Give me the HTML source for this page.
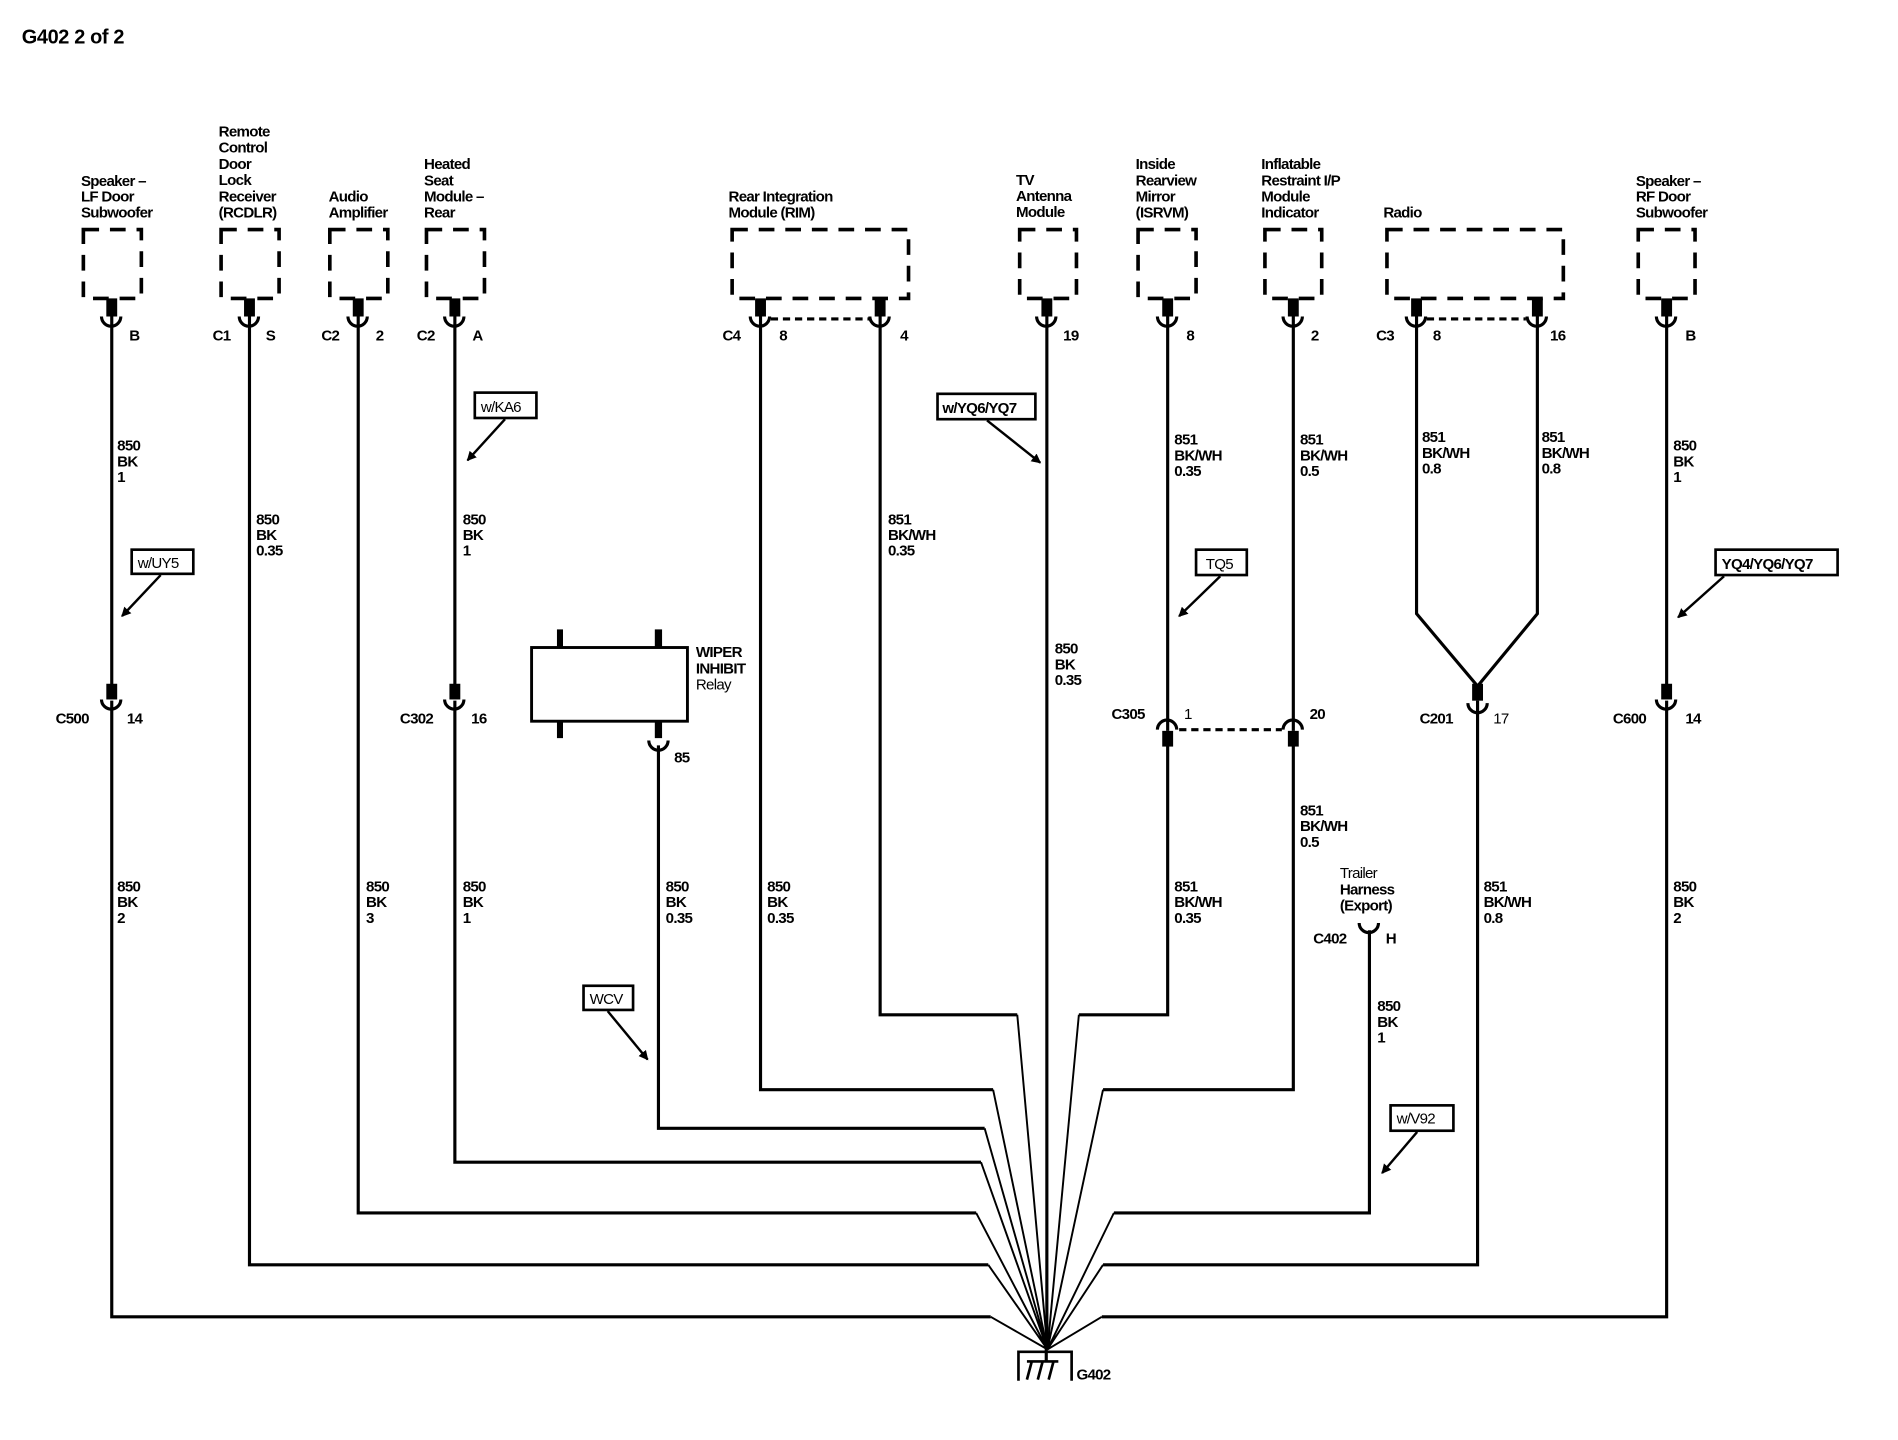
<!DOCTYPE html>
<html><head><meta charset="utf-8"><style>
html,body{margin:0;padding:0;background:#fff;}
svg{display:block;}
text{font-family:"Liberation Sans",Arial,sans-serif;font-size:12.5px;font-weight:bold;letter-spacing:-0.6px;fill:#000;}
.w{fill:none;stroke:#000;stroke-width:2.6;}
.t{fill:none;stroke:#000;stroke-width:1.6;}
.d{fill:none;stroke:#000;stroke-width:3;stroke-dasharray:13 9;}
.dot{fill:none;stroke:#000;stroke-width:2.6;stroke-dasharray:6 4;}
.c{fill:none;stroke:#000;stroke-width:2.6;}
</style></head><body>
<svg width="1898" height="1440" viewBox="0 0 1571 1192" preserveAspectRatio="none" xmlns="http://www.w3.org/2000/svg">
<defs>
<marker id="ah" markerWidth="8" markerHeight="8" refX="7" refY="4" orient="auto" markerUnits="userSpaceOnUse"><path d="M0,0 L8,4 L0,8 z" fill="#000"/></marker>
</defs>
<text x="18" y="36" style="font-size:16.5px;letter-spacing:-0.3px">G402 2 of 2</text>

<!-- dashed boxes -->
<rect class="d" x="69" y="190" width="48" height="57"/>
<rect class="d" x="183" y="190" width="48" height="57"/>
<rect class="d" x="273" y="190" width="48" height="57"/>
<rect class="d" x="353" y="190" width="48" height="57"/>
<rect class="d" x="606" y="190" width="146" height="57"/>
<rect class="d" x="844" y="190" width="47" height="57"/>
<rect class="d" x="942" y="190" width="48" height="57"/>
<rect class="d" x="1047" y="190" width="47" height="57"/>
<rect class="d" x="1148" y="190" width="146" height="57"/>
<rect class="d" x="1356" y="190" width="47" height="57"/>

<!-- component labels -->
<text x="67" y="154"><tspan x="67">Speaker –</tspan><tspan x="67" dy="13">LF Door</tspan><tspan x="67" dy="13">Subwoofer</tspan></text>
<text x="181" y="113"><tspan x="181">Remote</tspan><tspan x="181" dy="13.4">Control</tspan><tspan x="181" dy="13.4">Door</tspan><tspan x="181" dy="13.4">Lock</tspan><tspan x="181" dy="13.4">Receiver</tspan><tspan x="181" dy="13.4">(RCDLR)</tspan></text>
<text x="272" y="167"><tspan x="272">Audio</tspan><tspan x="272" dy="13">Amplifier</tspan></text>
<text x="351" y="140"><tspan x="351">Heated</tspan><tspan x="351" dy="13.4">Seat</tspan><tspan x="351" dy="13.4">Module –</tspan><tspan x="351" dy="13.4">Rear</tspan></text>
<text x="603" y="167"><tspan x="603">Rear Integration</tspan><tspan x="603" dy="13">Module (RIM)</tspan></text>
<text x="841" y="153"><tspan x="841">TV</tspan><tspan x="841" dy="13.4">Antenna</tspan><tspan x="841" dy="13.4">Module</tspan></text>
<text x="940" y="140"><tspan x="940">Inside</tspan><tspan x="940" dy="13.4">Rearview</tspan><tspan x="940" dy="13.4">Mirror</tspan><tspan x="940" dy="13.4">(ISRVM)</tspan></text>
<text x="1044" y="140"><tspan x="1044">Inflatable</tspan><tspan x="1044" dy="13.4">Restraint I/P</tspan><tspan x="1044" dy="13.4">Module</tspan><tspan x="1044" dy="13.4">Indicator</tspan></text>
<text x="1145" y="180">Radio</text>
<text x="1354" y="154"><tspan x="1354">Speaker –</tspan><tspan x="1354" dy="13">RF Door</tspan><tspan x="1354" dy="13">Subwoofer</tspan></text>

<!-- top connectors -->
<g fill="#000">
<rect x="88" y="247" width="9" height="15"/>
<rect x="202" y="247" width="9" height="15"/>
<rect x="292" y="247" width="9" height="15"/>
<rect x="372" y="247" width="9" height="15"/>
<rect x="625" y="247" width="9" height="15"/>
<rect x="724" y="247" width="9" height="15"/>
<rect x="862" y="247" width="9" height="15"/>
<rect x="962" y="247" width="9" height="15"/>
<rect x="1066" y="247" width="9" height="15"/>
<rect x="1168" y="247" width="9" height="15"/>
<rect x="1268" y="247" width="9" height="15"/>
<rect x="1375" y="247" width="9" height="15"/>
</g>
<path class="c" d="M84,262 A8,8 0 0 0 100,262 M198,262 A8,8 0 0 0 214,262 M288,262 A8,8 0 0 0 304,262 M368,262 A8,8 0 0 0 384,262 M621,262 A8,8 0 0 0 637,262 M720,262 A8,8 0 0 0 736,262 M858,262 A8,8 0 0 0 874,262 M958,262 A8,8 0 0 0 974,262 M1062,262 A8,8 0 0 0 1078,262 M1164,262 A8,8 0 0 0 1180,262 M1264,262 A8,8 0 0 0 1280,262 M1371,262 A8,8 0 0 0 1387,262"/>
<line class="dot" x1="638" y1="264" x2="720" y2="264"/>
<line class="dot" x1="1181" y1="264" x2="1263" y2="264"/>

<text x="107" y="282">B</text>
<text x="176" y="282">C1</text><text x="220" y="282">S</text>
<text x="266" y="282">C2</text><text x="311" y="282">2</text>
<text x="345" y="282">C2</text><text x="391" y="282">A</text>
<text x="598" y="282">C4</text><text x="645" y="282">8</text><text x="745" y="282">4</text>
<text x="880" y="282">19</text>
<text x="982" y="282">8</text>
<text x="1085" y="282">2</text>
<text x="1139" y="282">C3</text><text x="1186" y="282">8</text><text x="1283" y="282">16</text>
<text x="1395" y="282">B</text>

<!-- main wires -->
<path class="w" d="M92.5,262 V568 M92.5,580 V1090 H820"/>
<path class="w" d="M206.5,262 V1047 H818"/>
<path class="w" d="M296.5,262 V1004 H808"/>
<path class="w" d="M376.5,262 V568 M376.5,580 V962 H812"/>
<path class="w" d="M545,617 V934 H815"/>
<path class="w" d="M629.5,262 V902 H822"/>
<path class="w" d="M728.5,262 V840 H842"/>
<path class="w" d="M866.5,262 V1117"/>
<path class="w" d="M966.5,262 V605 M966.5,617 V840 H893"/>
<path class="w" d="M1070.5,262 V605 M1070.5,617 V902 H913"/>
<path class="w" d="M1172.5,262 V508 L1223,568 L1272.5,508 V262"/>
<path class="w" d="M1223,580 V1047 H913"/>
<path class="w" d="M1133.5,770 V1004 H922"/>
<path class="w" d="M1379.5,262 V568 M1379.5,580 V1090 H912"/>

<!-- convergence -->
<path class="t" d="M820,1090 L867,1117 M818,1047 L867,1117 M808,1004 L867,1117 M812,962 L867,1117 M815,934 L867,1117 M822,902 L867,1117 M842,840 L867,1117 M893,840 L867,1117 M913,902 L867,1117 M922,1004 L867,1117 M913,1047 L867,1117 M912,1090 L867,1117"/>
<!-- ground -->
<path d="M843,1143 V1119 H887 V1143" fill="none" stroke="#000" stroke-width="2.2"/>
<line x1="866" y1="1108" x2="866" y2="1127" stroke="#000" stroke-width="2.6"/>
<path d="M850,1127 H876 M854,1127 L850,1142 M863,1127 L859,1142 M872,1127 L868,1142" fill="none" stroke="#000" stroke-width="2.2"/>
<text x="891" y="1142">G402</text>

<!-- inline connectors -->
<g fill="#000">
<rect x="88" y="566" width="9" height="13"/>
<rect x="372" y="566" width="9" height="13"/>
<rect x="1218.5" y="566" width="9" height="14"/>
<rect x="1375" y="566" width="9" height="13"/>
<rect x="962" y="605" width="9" height="13"/>
<rect x="1066" y="605" width="9" height="13"/>
</g>
<path class="c" d="M84,579 A8,8 0 0 0 100,579 M368,579 A8,8 0 0 0 384,579 M1215,582 A8,8 0 0 0 1231,582 M1371,579 A8,8 0 0 0 1387,579 M958,604 A8,8 0 0 1 974,604 M1062,604 A8,8 0 0 1 1078,604 M537,613 A8,8 0 0 0 553,613 M1125,764 A8,8 0 0 0 1141,764"/>
<line class="dot" x1="976" y1="604" x2="1061" y2="604"/>
<text x="46" y="599">C500</text><text x="105" y="599">14</text>
<text x="331" y="599">C302</text><text x="390" y="599">16</text>
<text x="920" y="595">C305</text><text x="980" y="595" style="font-weight:normal">1</text><text x="1084" y="595">20</text>
<text x="1175" y="599">C201</text><text x="1236" y="599" style="font-weight:normal">17</text>
<text x="1335" y="599">C600</text><text x="1395" y="599">14</text>

<!-- relay -->
<rect x="440" y="536" width="129" height="61" fill="none" stroke="#000" stroke-width="2.4"/>
<g fill="#000">
<rect x="461" y="521" width="5" height="15"/>
<rect x="542" y="521" width="6" height="15"/>
<rect x="461" y="597" width="5" height="14"/>
<rect x="542" y="597" width="6" height="14"/>
</g>
<text x="576" y="544"><tspan x="576">WIPER</tspan><tspan x="576" dy="13.4">INHIBIT</tspan><tspan x="576" dy="13.4" style="font-weight:normal">Relay</tspan></text>
<text x="558" y="631">85</text>

<!-- trailer -->
<text x="1109" y="727"><tspan x="1109" style="font-weight:normal">Trailer</tspan><tspan x="1109" dy="13.4">Harness</tspan><tspan x="1109" dy="13.4">(Export)</tspan></text>
<text x="1087" y="781">C402</text><text x="1147" y="781">H</text>

<!-- wire labels -->
<text x="97" y="373"><tspan x="97">850</tspan><tspan x="97" dy="13">BK</tspan><tspan x="97" dy="13">1</tspan></text>
<text x="97" y="738"><tspan x="97">850</tspan><tspan x="97" dy="13">BK</tspan><tspan x="97" dy="13">2</tspan></text>
<text x="212" y="434"><tspan x="212">850</tspan><tspan x="212" dy="13">BK</tspan><tspan x="212" dy="13">0.35</tspan></text>
<text x="303" y="738"><tspan x="303">850</tspan><tspan x="303" dy="13">BK</tspan><tspan x="303" dy="13">3</tspan></text>
<text x="383" y="434"><tspan x="383">850</tspan><tspan x="383" dy="13">BK</tspan><tspan x="383" dy="13">1</tspan></text>
<text x="383" y="738"><tspan x="383">850</tspan><tspan x="383" dy="13">BK</tspan><tspan x="383" dy="13">1</tspan></text>
<text x="551" y="738"><tspan x="551">850</tspan><tspan x="551" dy="13">BK</tspan><tspan x="551" dy="13">0.35</tspan></text>
<text x="635" y="738"><tspan x="635">850</tspan><tspan x="635" dy="13">BK</tspan><tspan x="635" dy="13">0.35</tspan></text>
<text x="735" y="434"><tspan x="735">851</tspan><tspan x="735" dy="13">BK/WH</tspan><tspan x="735" dy="13">0.35</tspan></text>
<text x="873" y="541"><tspan x="873">850</tspan><tspan x="873" dy="13">BK</tspan><tspan x="873" dy="13">0.35</tspan></text>
<text x="972" y="368"><tspan x="972">851</tspan><tspan x="972" dy="13">BK/WH</tspan><tspan x="972" dy="13">0.35</tspan></text>
<text x="972" y="738"><tspan x="972">851</tspan><tspan x="972" dy="13">BK/WH</tspan><tspan x="972" dy="13">0.35</tspan></text>
<text x="1076" y="368"><tspan x="1076">851</tspan><tspan x="1076" dy="13">BK/WH</tspan><tspan x="1076" dy="13">0.5</tspan></text>
<text x="1076" y="675"><tspan x="1076">851</tspan><tspan x="1076" dy="13">BK/WH</tspan><tspan x="1076" dy="13">0.5</tspan></text>
<text x="1177" y="366"><tspan x="1177">851</tspan><tspan x="1177" dy="13">BK/WH</tspan><tspan x="1177" dy="13">0.8</tspan></text>
<text x="1276" y="366"><tspan x="1276">851</tspan><tspan x="1276" dy="13">BK/WH</tspan><tspan x="1276" dy="13">0.8</tspan></text>
<text x="1228" y="738"><tspan x="1228">851</tspan><tspan x="1228" dy="13">BK/WH</tspan><tspan x="1228" dy="13">0.8</tspan></text>
<text x="1140" y="837"><tspan x="1140">850</tspan><tspan x="1140" dy="13">BK</tspan><tspan x="1140" dy="13">1</tspan></text>
<text x="1385" y="373"><tspan x="1385">850</tspan><tspan x="1385" dy="13">BK</tspan><tspan x="1385" dy="13">1</tspan></text>
<text x="1385" y="738"><tspan x="1385">850</tspan><tspan x="1385" dy="13">BK</tspan><tspan x="1385" dy="13">2</tspan></text>

<!-- option callouts -->
<g fill="none" stroke="#000" stroke-width="2.2">
<rect x="109" y="455" width="51" height="20"/>
<rect x="393" y="325" width="51" height="21"/>
<rect x="776" y="326" width="81" height="21"/>
<rect x="990" y="455" width="42" height="21"/>
<rect x="1420" y="455" width="101" height="21"/>
<rect x="483" y="816" width="41" height="20"/>
<rect x="1151" y="915" width="52" height="21"/>
</g>
<text x="114" y="470" style="font-weight:normal">w/UY5</text>
<text x="398" y="341" style="font-weight:normal">w/KA6</text>
<text x="780" y="342">w/YQ6/YQ7</text>
<text x="998" y="471" style="font-weight:normal">TQ5</text>
<text x="1425" y="471">YQ4/YQ6/YQ7</text>
<text x="488" y="831" style="font-weight:normal">WCV</text>
<text x="1156" y="930" style="font-weight:normal">w/V92</text>
<g stroke="#000" stroke-width="2" marker-end="url(#ah)">
<line x1="133" y1="476" x2="101" y2="510"/>
<line x1="418" y1="347" x2="387" y2="381"/>
<line x1="817" y1="348" x2="861" y2="383"/>
<line x1="1010" y1="477" x2="976" y2="510"/>
<line x1="1427" y1="477" x2="1389" y2="511"/>
<line x1="503" y1="837" x2="536" y2="877"/>
<line x1="1173" y1="937" x2="1144" y2="971"/>
</g>
</svg>
</body></html>
